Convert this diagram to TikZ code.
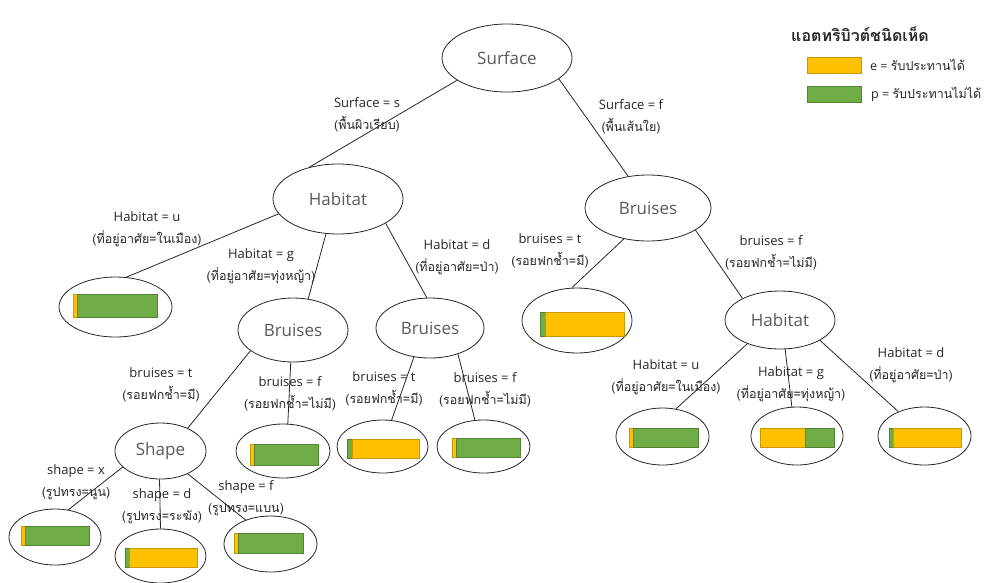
\documentclass[tikz,border=0pt]{standalone}
\usepackage{fontspec}
\setmainfont{Open Sans}
\newfontfamily\thai[Script=Thai]{Loma}
\usetikzlibrary{shapes.geometric,calc}
\definecolor{yel}{HTML}{FFC000}
\definecolor{yelb}{HTML}{C99A00}
\definecolor{grn}{HTML}{70AD47}
\definecolor{grnb}{HTML}{548235}
\newcommand\leafbar[7]{%
  \path[fill=#6, draw=#6b, line width=0.6pt] (#1,#4) rectangle (#2,#5);
  \path[fill=#7, draw=#7b, line width=0.6pt] (#2,#4) rectangle (#3,#5);}
\newcommand\thline[1]{{\thai\fontsize{12.5}{22}\selectfont #1}}
\begin{document}
\begin{tikzpicture}[x=1pt,y=-1pt,
  tn/.style={ellipse, draw=black!85, line width=0.8pt, inner sep=0pt, font=\fontsize{17}{20}\selectfont, text=black!65},
  lf/.style={ellipse, draw=black!85, line width=0.8pt, inner sep=0pt},
  edge/.style={draw=black!85, line width=0.8pt},
  lbl/.style={align=center, inner sep=0pt, font=\fontsize{13}{22}\selectfont, text=black!85}]
\useasboundingbox (0,0) rectangle (984,582);

% decision nodes
\node[tn, minimum width=130, minimum height=68] (surf) at (507,58) {Surface};
\node[tn, minimum width=130, minimum height=70] (habL) at (338,199) {Habitat};
\node[tn, minimum width=126, minimum height=66] (bruR) at (648,208) {Bruises};
\node[tn, minimum width=110, minimum height=64] (bruML) at (293,330) {Bruises};
\node[tn, minimum width=108, minimum height=60] (bruM) at (430,328) {Bruises};
\node[tn, minimum width=110, minimum height=58] (habR) at (780,320) {Habitat};
\node[tn, minimum width=91, minimum height=56] (shp) at (160.5,451) {Shape};

% leaves
\node[lf, minimum width=113, minimum height=60] (l1) at (115.5,307) {};
\node[lf, minimum width=110, minimum height=65] (l2) at (577,320.5) {};
\node[lf, minimum width=94, minimum height=54] (l3) at (283,451) {};
\node[lf, minimum width=91, minimum height=53] (l4) at (382.5,446.5) {};
\node[lf, minimum width=93, minimum height=53] (l5) at (483.5,446.5) {};
\node[lf, minimum width=93, minimum height=57] (l6) at (662.5,436.5) {};
\node[lf, minimum width=92, minimum height=58] (l7) at (797,436) {};
\node[lf, minimum width=93, minimum height=58] (l8) at (924.5,436) {};
\node[lf, minimum width=92, minimum height=56] (s1) at (55,537) {};
\node[lf, minimum width=91, minimum height=54] (s2) at (160.5,556) {};
\node[lf, minimum width=93, minimum height=56] (s3) at (270.5,544) {};

% bars
\leafbar{73}{77}{157}{294}{317}{yel}{grn}
\leafbar{540}{545}{624}{312}{336}{grn}{yel}
\leafbar{250}{254}{318}{444}{465}{yel}{grn}
\leafbar{347}{352}{419}{439}{458}{grn}{yel}
\leafbar{452}{456}{520}{438}{457}{yel}{grn}
\leafbar{629}{633}{698}{428}{447}{yel}{grn}
\leafbar{760}{805}{834}{428}{447}{yel}{grn}
\leafbar{889}{893}{961}{428}{447}{grn}{yel}
\leafbar{21}{25}{89}{526}{545}{yel}{grn}
\leafbar{125}{129}{197}{548}{567}{grn}{yel}
\leafbar{234}{238}{303}{533}{553}{yel}{grn}

% edges
\draw[edge] (surf.204) -- (habL.132);
\draw[edge] (surf.338) -- (bruR.122);
\draw[edge] (habL.194) -- (l1.70);
\draw[edge] (habL.251) -- (bruML.64);
\draw[edge] (habL.333) -- (bruM.96);
\draw[edge] (bruR.232) -- (l2.99);
\draw[edge] (bruR.335) -- (habR.150);
\draw[edge] (bruML.206) -- (shp.40);
\draw[edge] (bruML.266) -- (l3.80);
\draw[edge] (bruM.241) -- (l4.71);
\draw[edge] (bruM.317) -- (l5.108);
\draw[edge] (habR.216) -- (l6.64);
\draw[edge] (habR.280) -- (l7.100);
\draw[edge] (habR.333) -- (l8.137);
\draw[edge] (shp.203) -- (s1.64);
\draw[edge] (shp.268) -- (s2.90);
\draw[edge] (shp.320) -- (s3.136);

% edge labels
\node[lbl] (e1) at (367,115) {Surface = s\\\thline{(พื้นผิวเรียบ)}};
\node[lbl] (e2) at (631,117) {Surface = f\\\thline{(พื้นเส้นใย)}};
\node[lbl] (e3) at (147,229) {Habitat = u\\\thline{(ที่อยู่อาศัย=ในเมือง)}};
\node[lbl] (e4) at (261,266) {Habitat = g\\\thline{(ที่อยู่อาศัย=ทุ่งหญ้า)}};
\node[lbl] (e5) at (457,257) {Habitat = d\\\thline{(ที่อยู่อาศัย=ป่า)}};
\node[lbl] (e6) at (550,251) {bruises = t\\\thline{(รอยฟกช้ำ=มี)}};
\node[lbl] (e7) at (771,253) {bruises = f\\\thline{(รอยฟกช้ำ=ไม่มี)}};
\node[lbl] (e8) at (161,385) {bruises = t\\\thline{(รอยฟกช้ำ=มี)}};
\node[lbl] (e9) at (290,394) {bruises = f\\\thline{(รอยฟกช้ำ=ไม่มี)}};
\node[lbl] (e10) at (384,389) {bruises = t\\\thline{(รอยฟกช้ำ=มี)}};
\node[lbl] (e11) at (485,390) {bruises = f\\\thline{(รอยฟกช้ำ=ไม่มี)}};
\node[lbl] (e12) at (666,377) {Habitat = u\\\thline{(ที่อยู่อาศัย=ในเมือง)}};
\node[lbl] (e13) at (791,384) {Habitat = g\\\thline{(ที่อยู่อาศัย=ทุ่งหญ้า)}};
\node[lbl] (e14) at (911,365) {Habitat = d\\\thline{(ที่อยู่อาศัย=ป่า)}};
\node[lbl] (e15) at (76,482) {shape = x\\\thline{(รูปทรง=นูน)}};
\node[lbl] (e16) at (162,506) {shape = d\\\thline{(รูปทรง=ระฆัง)}};
\node[lbl] (e17) at (246,498) {shape = f\\\thline{(รูปทรง=แบน)}};

% legend
\node[inner sep=0pt, font=\thai\bfseries\fontsize{16}{18}\selectfont, text=black!85] (lt) at (860,34) {แอตทริบิวต์ชนิดเห็ด};
\path[fill=yel, draw=yelb, line width=0.6pt] (807,57) rectangle (861,73);
\path[fill=grn, draw=grnb, line width=0.6pt] (807,86) rectangle (861,102);
\node[anchor=west, inner sep=0pt, font=\fontsize{12.5}{14}\selectfont, text=black!85] (le) at (870,65) {e = {\thai รับประทานได้}};
\node[anchor=west, inner sep=0pt, font=\fontsize{12.5}{14}\selectfont, text=black!85] (lp) at (871,94) {p = {\thai รับประทานไม่ได้}};
\end{tikzpicture}
\end{document}
